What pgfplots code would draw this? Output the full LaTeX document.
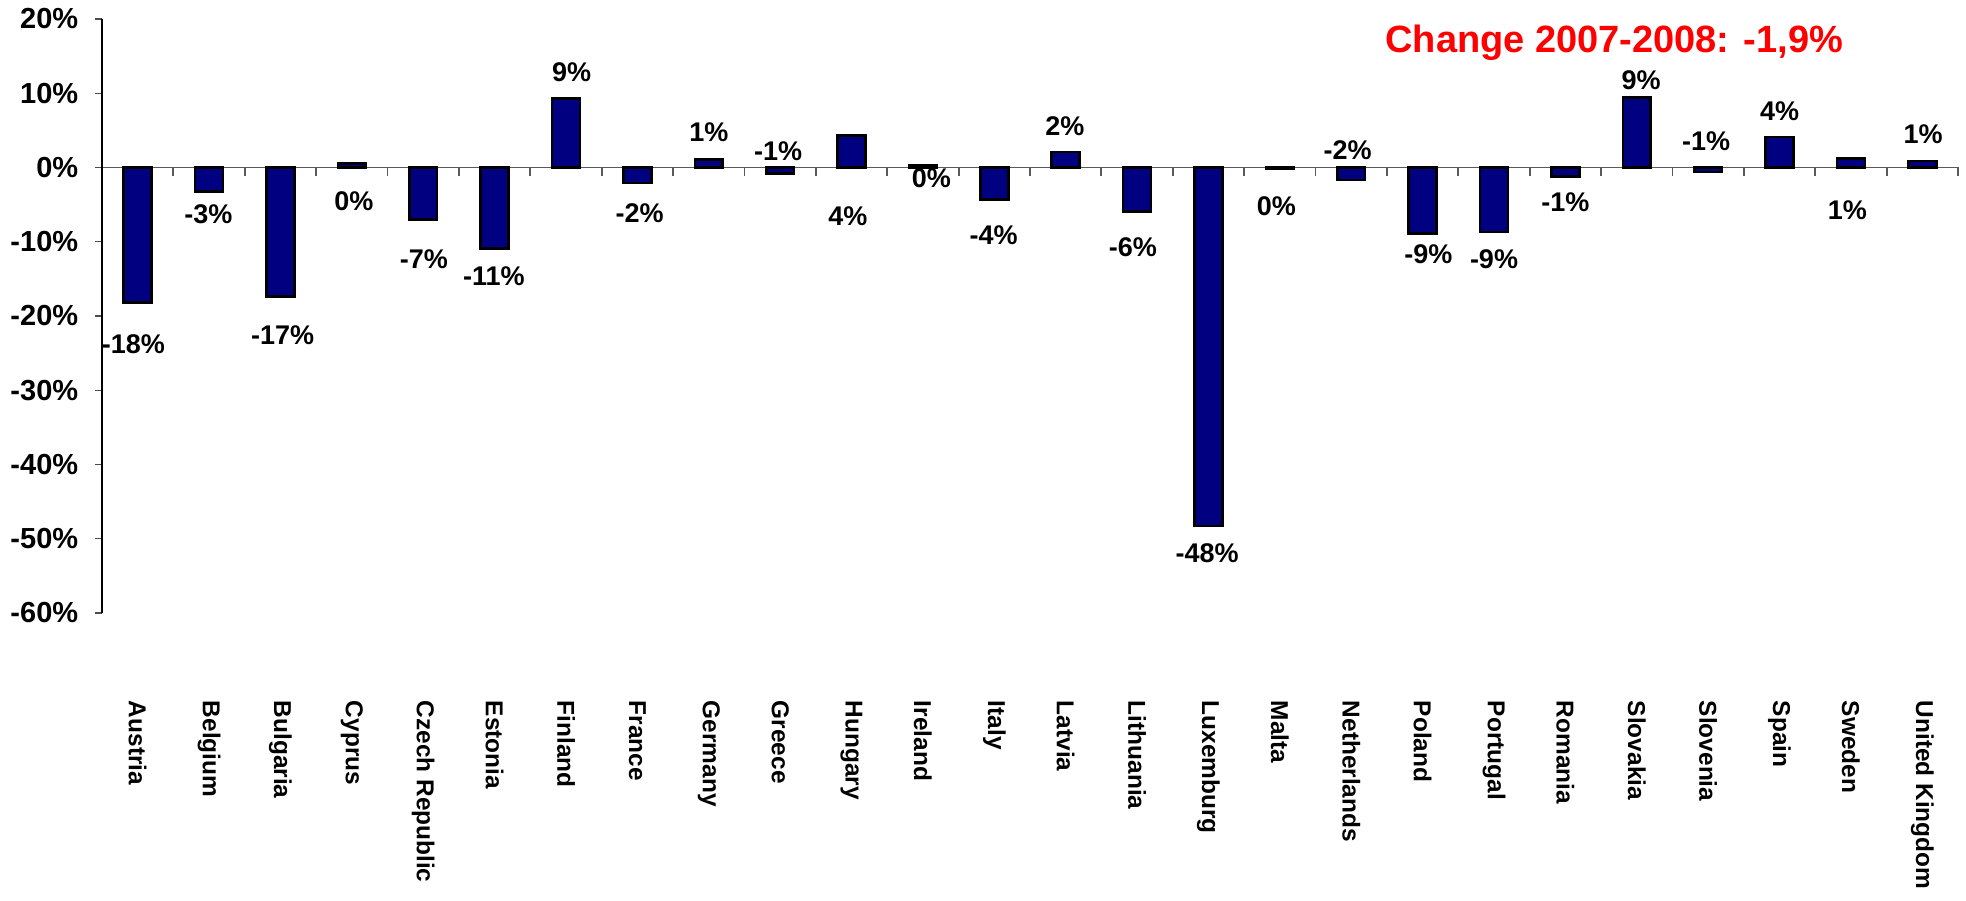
\documentclass[border=0pt]{standalone}
\usepackage{fontspec}
\setmainfont{Liberation Sans}
\usepackage{pgfplots}
\pgfplotsset{compat=1.18}
\usepackage{pgfplotstable}
\definecolor{BarNavy}{RGB}{0,0,128}
\definecolor{TitleRed}{RGB}{255,0,0}
\definecolor{ZeroGrey}{RGB}{90,90,90}

% change 2007-2008 per country, in %
\pgfplotstableread{
idx val
0 -18.2
1 -3.2
2 -17.4
3 0.5
4 -7.0
5 -10.9
6 9.3
7 -2.1
8 1.1
9 -0.8
10 4.3
11 0.3
12 -4.3
13 2.1
14 -5.9
15 -48.3
16 -0.15
17 -1.7
18 -8.9
19 -8.7
20 -1.2
21 9.4
22 -0.6
23 4.1
24 1.2
25 0.9
}\changedata

% where each value label sits (as placed in the original)
\pgfplotstableread{
x y lbl
-0.06 -23.8 -18
0.99 -6.3 -3
2.03 -22.6 -17
3.03 -4.5 0
4.01 -12.3 -7
4.99 -14.7 -11
6.08 12.9 9
7.03 -6.2 -2
8.00 4.7 1
8.97 2.2 -1
9.95 -6.6 4
11.12 -1.5 0
11.99 -9.1 -4
12.99 5.6 2
13.94 -10.8 -6
14.98 -51.9 -48
15.95 -5.2 0
16.95 2.4 -2
18.08 -11.7 -9
19.00 -12.3 -9
20.00 -4.7 -1
21.06 11.7 9
21.97 3.6 -1
23.00 7.6 4
23.95 -5.7 1
25.01 4.5 1
}\labeldata

\begin{document}
\begin{tikzpicture}
\useasboundingbox (-51pt,-143.5pt) rectangle (932pt,306.5pt);
\begin{axis}[
at={(0,0)},
anchor=south west,
scale only axis,
width=928pt,
height=297pt,
xmin=-0.5,
xmax=25.5,
ymin=-60,
ymax=20,
axis y line*=left,
axis x line*=middle,
y axis line style={black,line width=0.8pt},
x axis line style={ZeroGrey,line width=0.8pt},
xtick={0,1,...,25},
xticklabels={Austria,Belgium,Bulgaria,Cyprus,Czech Republic,Estonia,Finland,France,Germany,Greece,Hungary,Ireland,Italy,Latvia,Lithuania,Luxemburg,Malta,Netherlands,Poland,Portugal,Romania,Slovakia,Slovenia,Spain,Sweden,United Kingdom},
major x tick style={draw=none},
major tick length=3.5pt,
ytick align=outside,
ytick style={black!70,line width=0.7pt},
xticklabel style={rotate=-90,anchor=west,inner sep=0pt,font=\bfseries\fontsize{12.2}{15}\selectfont},
xticklabel shift=266.5pt,
ytick={-60,-50,...,20},
yticklabel={\pgfmathprintnumber{\tick}\%},
yticklabel style={anchor=east,inner sep=0pt,xshift=-8.2pt,font=\bfseries\fontsize{14.5}{17}\selectfont},
/pgf/number format/assume math mode=true,
clip=false,
]

\addplot[
ybar,
bar width=0.39,
fill=BarNavy,
draw=black,
line width=1.3pt]
table[x=idx,y=val] {\changedata};

\addplot[
draw=none,
mark=none,
point meta=explicit,
nodes near coords={\pgfmathprintnumber{\pgfplotspointmeta}\%},
nodes near coords style={anchor=center,inner sep=0pt,font=\bfseries\fontsize{13.5}{16}\selectfont}]
table[x=x,y=y,meta=lbl] {\labeldata};

\end{axis}

% category separators hanging below the zero line (928pt / 26 categories)
\foreach \i in {1,...,26}{
  \draw[ZeroGrey,line width=0.9pt] ({\i*35.6923pt},222.75pt) -- ++(0pt,-4.5pt);
}

\node[anchor=west,inner sep=0pt,text=TitleRed,font=\bfseries\fontsize{19}{22}\selectfont]
at (641.5pt,285pt) {Change 2007-2008: -1,9\%};
\end{tikzpicture}
\end{document}
